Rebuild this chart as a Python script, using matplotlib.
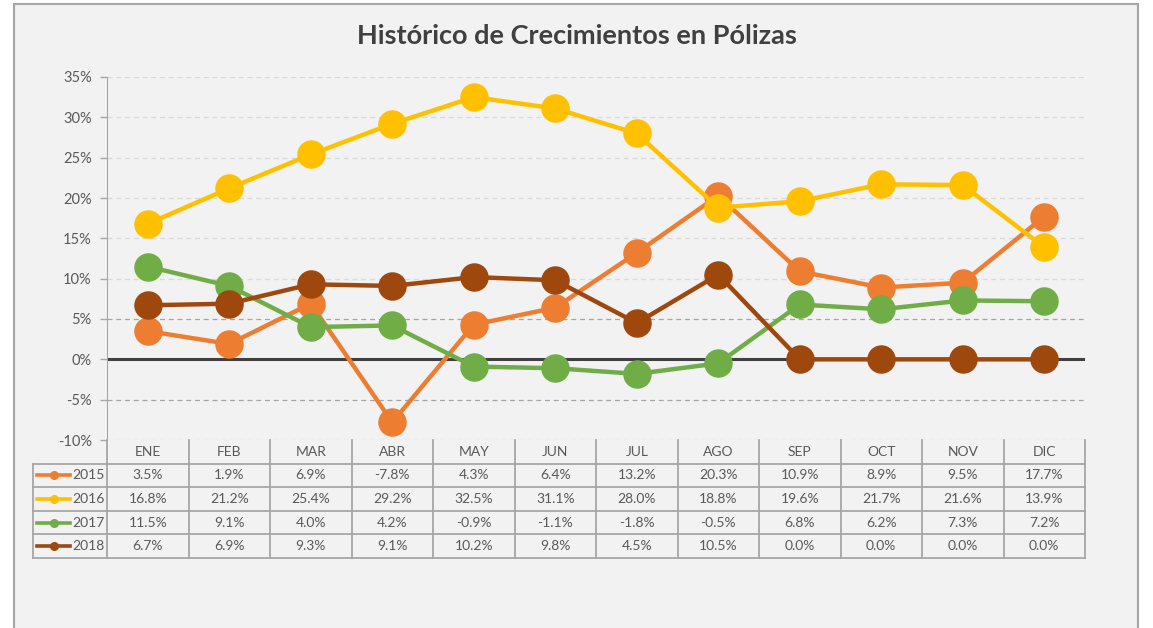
import numpy as np
import matplotlib
matplotlib.use("Agg")
import matplotlib.pyplot as plt
from matplotlib.ticker import FuncFormatter

plt.rcParams["font.family"] = ["Lato", "DejaVu Sans"]

# ---------- data ----------
months = ["ENE", "FEB", "MAR", "ABR", "MAY", "JUN", "JUL", "AGO", "SEP", "OCT", "NOV", "DIC"]
years = ["2015", "2016", "2017", "2018"]
v2015 = [3.5, 1.9, 6.9, -7.8, 4.3, 6.4, 13.2, 20.3, 10.9, 8.9, 9.5, 17.7]
v2016 = [16.8, 21.2, 25.4, 29.2, 32.5, 31.1, 28.0, 18.8, 19.6, 21.7, 21.6, 13.9]
v2017 = [11.5, 9.1, 4.0, 4.2, -0.9, -1.1, -1.8, -0.5, 6.8, 6.2, 7.3, 7.2]
v2018 = [6.7, 6.9, 9.3, 9.1, 10.2, 9.8, 4.5, 10.5, 0.0, 0.0, 0.0, 0.0]
series = [v2015, v2016, v2017, v2018]
colors = ["#ED7D31", "#FFC000", "#70AD47", "#9E480E"]
yticks = [-10, -5, 0, 5, 10, 15, 20, 25, 30, 35]

W, H = 1153, 628
BG = "#F2F2F2"
GRID_LIGHT = "#D9D9D9"
GRID_DARK = "#A6A6A6"
TXT = "#595959"
BORDER = "#A6A6A6"

fig = plt.figure(figsize=(W / 100, H / 100), dpi=100)
fig.patch.set_facecolor("white")

# pixel-coordinate overlay for frame and data table
ov = fig.add_axes([0, 0, 1, 1], zorder=0)
ov.set_xlim(0, W)
ov.set_ylim(H, 0)
ov.axis("off")
ov.add_patch(plt.Rectangle((14, 4), 1124, 640, facecolor=BG, edgecolor=BORDER, lw=1.5))

# plot area
x_left, x_right = 107, 1085
y_top, y_bot = 77, 440
ax = fig.add_axes([x_left / W, 1 - y_bot / H, (x_right - x_left) / W, (y_bot - y_top) / H], zorder=2)
ax.set_facecolor("none")
x = np.arange(len(months))
ax.set_xlim(-0.5, len(months) - 0.5)
ax.set_ylim(-10, 35)

for t in yticks:
    if t == 0:
        continue
    c = GRID_DARK if t in (5, -5) else GRID_LIGHT
    ax.axhline(t, color=c, lw=0.9, ls=(0, (4, 3)), zorder=1)
ax.axhline(0, color="#404040", lw=2.2, zorder=2)

for vals, col in zip(series, colors):
    ax.plot(x, vals, color=col, lw=3.2, marker="o", markersize=19.5,
            markeredgecolor=col, zorder=3, clip_on=False)

ax.set_yticks(yticks)
ax.yaxis.set_major_formatter(FuncFormatter(lambda v, p: f"{v:.0f}%"))
ax.tick_params(axis="y", colors=GRID_DARK, labelcolor=TXT, labelsize=10.5, length=5, width=1, pad=6)
ax.set_xticks([])
for s in ["top", "right", "bottom"]:
    ax.spines[s].set_visible(False)
ax.spines["left"].set_color(GRID_DARK)

fig.text(0.5, 1 - 36 / H, "Histórico de Crecimientos en Pólizas", ha="center", va="center",
         fontsize=19.5, fontweight="bold", color="#404040")

# ---------- data table ----------
col_w = (x_right - x_left) / len(months)
row_h = 23.6
lab_left = 33
hdr_top = y_bot
lc = dict(color=GRID_DARK, lw=1.3, zorder=1)

# header row
for i, m in enumerate(months):
    cx = x_left + col_w * (i + 0.5)
    ov.text(cx, hdr_top + row_h / 2, m, ha="center", va="center", fontsize=10, color=TXT)
for i in range(len(months) + 1):
    xx = x_left + col_w * i
    ov.plot([xx, xx], [hdr_top, hdr_top + row_h * 5], **lc)
ov.plot([lab_left, lab_left], [hdr_top + row_h, hdr_top + row_h * 5], **lc)
for r in range(1, 6):
    yy = hdr_top + row_h * r
    ov.plot([lab_left, x_right], [yy, yy], **lc)

for r, (yr, vals, col) in enumerate(zip(years, series, colors)):
    cy = hdr_top + row_h * (r + 1.5)
    ov.plot([37, 70], [cy, cy], color=col, lw=2.6, zorder=3)
    ov.plot([53.5], [cy], color=col, marker="o", markersize=5.5, zorder=4)
    ov.text(72, cy, yr, ha="left", va="center", fontsize=10, color=TXT)
    for i, v in enumerate(vals):
        cx = x_left + col_w * (i + 0.5)
        ov.text(cx, cy, f"{v:.1f}%", ha="center", va="center", fontsize=10, color=TXT)

fig.savefig("out.png", dpi=100, facecolor=fig.get_facecolor())
